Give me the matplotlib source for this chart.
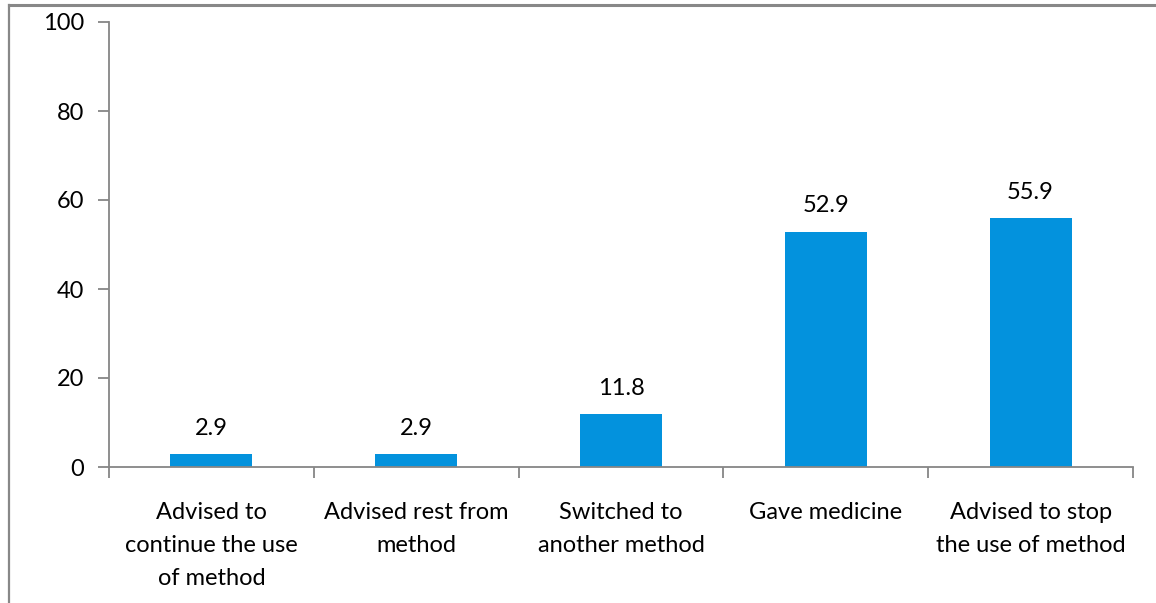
import numpy as np
import matplotlib.pyplot as plt

# Data
categories = ["Advised to\ncontinue the use\nof method",
              "Advised rest from\nmethod",
              "Switched to\nanother method",
              "Gave medicine",
              "Advised to stop\nthe use of method"]
values = [2.9, 2.9, 11.8, 52.9, 55.9]
yticks = [0, 20, 40, 60, 80, 100]

W, H = 1156, 603
fig = plt.figure(figsize=(W / 100, H / 100), dpi=100)
plt.rcParams['font.family'] = ['Lato', 'DejaVu Sans']
FS = 17

# outer chart border, cut off at right and bottom like the reference
fig.add_artist(plt.Line2D([8.5 / W, 8.5 / W], [0, 1 - 4.5 / H],
                          transform=fig.transFigure, color="#888888",
                          linewidth=1.6))
fig.add_artist(plt.Line2D([8.5 / W, 1], [1 - 4.5 / H, 1 - 4.5 / H],
                          transform=fig.transFigure, color="#888888",
                          linewidth=2.2))

# axes box in pixel coordinates
left, right, top, bottom = 109, 1133, 22, 467
ax = fig.add_axes([left / W, 1 - bottom / H, (right - left) / W, (bottom - top) / H])

x = np.arange(len(categories))
bars = ax.bar(x, values, width=0.4, color="#0392DD")

for xi, v in zip(x, values):
    ax.text(xi, v + 3.5, f"{v:.1f}", ha="center", va="bottom", fontsize=FS)

ax.set_xlim(-0.5, len(categories) - 0.5)
ax.set_ylim(0, 100)
ax.set_yticks(yticks)
ax.set_yticklabels([str(t) for t in yticks], fontsize=FS)

# category labels below the axis
ax.set_xticks(x)
ax.set_xticklabels(categories, fontsize=FS, linespacing=1.7)
ax.tick_params(axis="x", length=0, pad=25)
ax.set_xticks(np.arange(len(categories) + 1) - 0.5, minor=True)
ax.tick_params(axis="x", which="minor", length=8, width=1.3, color="#868686")
ax.tick_params(axis="y", length=8, width=1.3, color="#868686", pad=10)

for s in ["top", "right"]:
    ax.spines[s].set_visible(False)
for s in ["left", "bottom"]:
    ax.spines[s].set_color("#868686")
    ax.spines[s].set_linewidth(1.3)

fig.savefig("out.png", dpi=100)
